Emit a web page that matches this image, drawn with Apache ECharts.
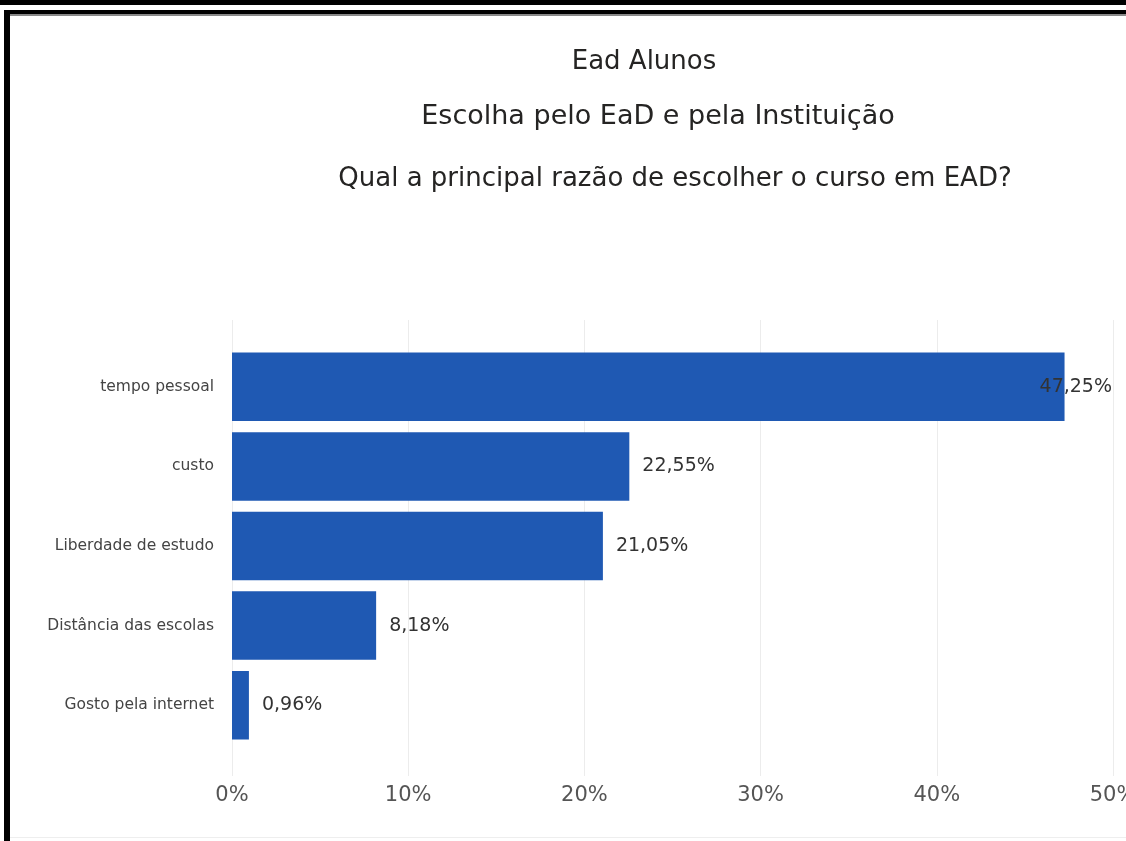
<!DOCTYPE html>
<html><head><meta charset="utf-8">
<script src="https://cdn.jsdelivr.net/npm/echarts@6/dist/echarts.min.js"></script>
<style>html,body{margin:0;padding:0;background:#fff}#c{width:1126px;height:841px}</style>
</head><body><div id="c"></div>
<script>
const categories = ['tempo pessoal', 'custo', 'Liberdade de estudo', 'Distância das escolas', 'Gosto pela internet'];
const values = [47.25, 22.55, 21.05, 8.18, 0.96];
const xTicks = [0, 10, 20, 30, 40, 50];
const titleText = 'Ead Alunos';
const subtitleText = 'Escolha pelo EaD e pela Instituição';
const questionText = 'Qual a principal razão de escolher o curso em EAD?';

const FONT = 'DejaVu Sans';
const chart = echarts.init(document.getElementById('c'));
const fmt = v => v.toFixed(2).replace('.', ',') + '%';
chart.setOption({
  animation: false,
  backgroundColor: '#fff',
  graphic: [
    {type: 'text', x: 644, y: 62, style: {text: titleText, font: '26px "DejaVu Sans"', fill: '#252423', align: 'center', verticalAlign: 'middle'}},
    {type: 'text', x: 658, y: 117, style: {text: subtitleText, font: '27px "DejaVu Sans"', fill: '#252423', align: 'center', verticalAlign: 'middle'}},
    {type: 'text', x: 675, y: 179, style: {text: questionText, font: '26px "DejaVu Sans"', fill: '#252423', align: 'center', verticalAlign: 'middle'}},
    {type: 'rect', shape: {x: 0, y: 0, width: 1126, height: 5}, style: {fill: '#000'}, z: 100},
    {type: 'rect', shape: {x: 4, y: 10, width: 1122, height: 4}, style: {fill: '#000'}, z: 100},
    {type: 'rect', shape: {x: 4, y: 14, width: 1122, height: 2}, style: {fill: '#888'}, z: 100},
    {type: 'rect', shape: {x: 4, y: 10, width: 6, height: 831}, style: {fill: '#000'}, z: 100},
    {type: 'rect', shape: {x: 10, y: 837, width: 1116, height: 1}, style: {fill: '#eeeeee'}, z: 100}
  ],
  grid: [
    {left: 232, right: 13, top: 347, bottom: 96, outerBoundsMode: 'none', containLabel: false},
    {left: 232, right: 13, top: 320, bottom: 65, outerBoundsMode: 'none', containLabel: false}
  ],
  xAxis: [
    {gridIndex: 0, type: 'value', min: 0, max: 50, interval: 10, show: false},
    {gridIndex: 1, type: 'value', min: xTicks[0], max: xTicks[xTicks.length - 1], interval: 10,
     axisLine: {show: false}, axisTick: {show: false},
     splitLine: {show: true, lineStyle: {color: '#ececec', width: 1}},
     axisLabel: {margin: 9, fontFamily: FONT, fontSize: 21, color: '#555', formatter: v => v + '%'}}
  ],
  yAxis: [
    {gridIndex: 0, type: 'category', data: categories, inverse: true,
     axisLine: {show: false}, axisTick: {show: false}, splitLine: {show: false},
     axisLabel: {margin: 18, fontFamily: FONT, fontSize: 15.5, color: '#444'}},
    {gridIndex: 1, type: 'category', data: categories, show: false}
  ],
  series: [{
    type: 'bar', xAxisIndex: 0, yAxisIndex: 0,
    data: values.map((v, i) => i === 0 ? {value: v, label: {position: 'right', offset: [-38, 0]}} : v),
    barCategoryGap: '14%',
    itemStyle: {color: '#1F59B3'},
    label: {show: true, position: 'right', distance: 13, fontFamily: FONT, fontSize: 19, color: '#333', formatter: p => fmt(p.value)}
  }]
});
</script></body></html>
